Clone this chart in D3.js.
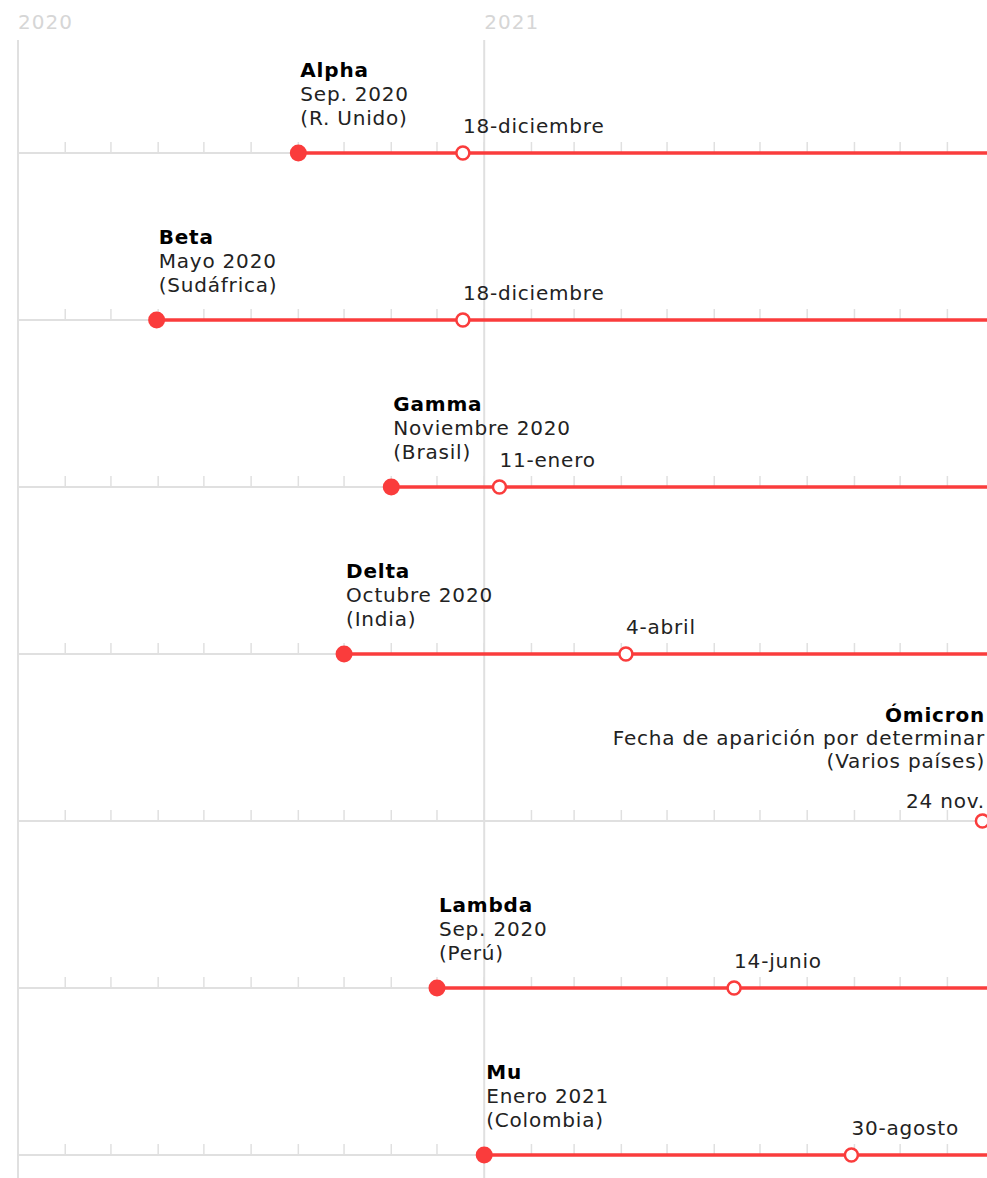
<!DOCTYPE html>
<html>
<head>
<meta charset="utf-8">
<script src="https://cdn.jsdelivr.net/npm/d3@7"></script>
<style>
  html, body { margin: 0; padding: 0; background: #fff; }
  svg text { font-family: "DejaVu Sans", sans-serif; }
</style>
</head>
<body>
<svg id="chart" width="987" height="1178"></svg>
<script>
// ---- Data ----
const variants = ["Alpha", "Beta", "Gamma", "Delta", "Ómicron", "Lambda", "Mu"];
const emergenceLabels = ["Sep. 2020", "Mayo 2020", "Noviembre 2020", "Octubre 2020",
  "Fecha de aparición por determinar", "Sep. 2020", "Enero 2021"];
const countries = ["(R. Unido)", "(Sudáfrica)", "(Brasil)", "(India)", "(Varios países)", "(Perú)", "(Colombia)"];
const emergenceDates = ["2020-09-01", "2020-05-31", "2020-11-01", "2020-10-01", null, "2020-12-01", "2021-01-01"];
const designationDates = ["2020-12-18", "2020-12-18", "2021-01-11", "2021-04-04", "2021-11-24", "2021-06-14", "2021-08-30"];
const designationLabels = ["18-diciembre", "18-diciembre", "11-enero", "4-abril", "24 nov.", "14-junio", "30-agosto"];
const yearTicks = ["2020-03-01", "2021-01-01"];
const yearLabels = ["2020", "2021"];

const parse = d3.timeParse("%Y-%m-%d");
const rows = variants.map((v, i) => ({
  name: v,
  emergenceLabel: emergenceLabels[i],
  country: countries[i],
  start: emergenceDates[i] ? parse(emergenceDates[i]) : null,
  designated: parse(designationDates[i]),
  designatedLabel: designationLabels[i]
}));

const W = 987, H = 1178;
const svg = d3.select("#chart");

const x = d3.scaleTime()
  .domain([parse("2020-03-01"), parse("2021-11-27")])
  .range([18, 987]);
const y = d3.scalePoint().domain(variants).range([153, 1155]);

const grey = "#e0e0e0";
const red = "#fa3c3c";
const xEnd = x.range()[1];

// year labels & gridlines
yearTicks.forEach((t, i) => {
  const xx = x(parse(t));
  svg.append("line").attr("x1", xx).attr("x2", xx).attr("y1", 40).attr("y2", H)
    .attr("stroke", grey).attr("stroke-width", 2);
  svg.append("text").attr("x", xx).attr("y", 29)
    .attr("font-size", 20).attr("fill", "#d6d6d6").attr("letter-spacing", 1)
    .text(yearLabels[i]);
});

const monthTicks = x.ticks(d3.timeMonth.every(1));

const g = svg.selectAll("g.row").data(rows).join("g")
  .attr("class", "row")
  .attr("transform", d => `translate(0,${y(d.name)})`);

// baseline axis
g.append("line").attr("x1", x.range()[0]).attr("x2", xEnd)
  .attr("y1", 0).attr("y2", 0).attr("stroke", grey).attr("stroke-width", 2);

// month ticks
g.selectAll("line.tick").data(monthTicks).join("line")
  .attr("class", "tick")
  .attr("x1", d => x(d)).attr("x2", d => x(d))
  .attr("y1", -11).attr("y2", 0)
  .attr("stroke", grey).attr("stroke-width", 1.5);

// red line
g.filter(d => d.start).append("line")
  .attr("x1", d => x(d.start)).attr("x2", xEnd)
  .attr("y1", 0).attr("y2", 0)
  .attr("stroke", red).attr("stroke-width", 3.5);

// start dot
g.filter(d => d.start).append("circle")
  .attr("cx", d => x(d.start)).attr("cy", 0).attr("r", 8.5)
  .attr("fill", red);

// designation circle
g.append("circle")
  .attr("cx", d => x(d.designated)).attr("cy", 0).attr("r", 6.5)
  .attr("fill", "#fff").attr("stroke", red).attr("stroke-width", 2.5);

const fs = 20, ls = 0.8;

// labels for normal rows
const normal = g.filter(d => d.start);
normal.append("text")
  .attr("x", d => x(d.start) + 2).attr("y", -76)
  .attr("font-size", fs).attr("font-weight", "bold").attr("fill", "#000")
  .attr("letter-spacing", ls).text(d => d.name);
normal.append("text")
  .attr("x", d => x(d.start) + 2).attr("y", -52)
  .attr("font-size", fs).attr("fill", "#222")
  .attr("letter-spacing", ls).text(d => d.emergenceLabel);
normal.append("text")
  .attr("x", d => x(d.start) + 2).attr("y", -28)
  .attr("font-size", fs).attr("fill", "#222")
  .attr("letter-spacing", ls).text(d => d.country);
normal.append("text")
  .attr("x", d => x(d.designated)).attr("y", -20)
  .attr("font-size", fs).attr("fill", "#222")
  .attr("letter-spacing", ls).text(d => d.designatedLabel);

// Omicron (no start date): right aligned
const undet = g.filter(d => !d.start);
const rx = 985;
undet.append("text")
  .attr("x", rx).attr("y", -99).attr("text-anchor", "end")
  .attr("font-size", fs).attr("font-weight", "bold").attr("fill", "#000")
  .attr("letter-spacing", ls).text(d => d.name);
undet.append("text")
  .attr("x", rx).attr("y", -76).attr("text-anchor", "end")
  .attr("font-size", fs).attr("fill", "#222")
  .attr("letter-spacing", ls).text(d => d.emergenceLabel);
undet.append("text")
  .attr("x", rx).attr("y", -53).attr("text-anchor", "end")
  .attr("font-size", fs).attr("fill", "#222")
  .attr("letter-spacing", ls).text(d => d.country);
undet.append("text")
  .attr("x", rx).attr("y", -13).attr("text-anchor", "end")
  .attr("font-size", fs).attr("fill", "#222")
  .attr("letter-spacing", ls).text(d => d.designatedLabel);
</script>
</body>
</html>
